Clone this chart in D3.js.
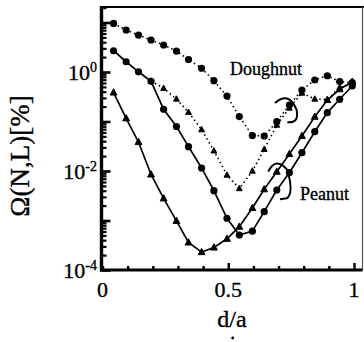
<!DOCTYPE html>
<html>
<head>
<meta charset="utf-8">
<script src="https://cdn.jsdelivr.net/npm/d3@7/dist/d3.min.js"></script>
<style>
  html, body { margin: 0; padding: 0; background: #fff; }
  svg { display: block; }
  text { font-family: "Liberation Serif", "DejaVu Serif", serif; fill: #000; stroke: #000; stroke-width: 0.35px; }
</style>
</head>
<body>
<svg id="chart" width="364" height="342"></svg>
<script>
// ---- data ----
const xPoints = [0.044, 0.094, 0.143, 0.193, 0.243, 0.294, 0.342, 0.394, 0.443, 0.495,
                 0.544, 0.596, 0.643, 0.693, 0.743, 0.793, 0.844, 0.894, 0.943, 0.993];
const doughnutCircle = [9.6, 7.05, 5.58, 4.43, 3.51, 2.65, 1.79, 1.19, 0.667, 0.327,
                        0.126, 0.052, 0.051, 0.099, 0.215, 0.433, 0.69, 0.84, 0.64, 0.61];
const xDoughnutTri = [0.193, 0.243, 0.294, 0.342, 0.394, 0.443, 0.495, 0.544, 0.596, 0.643,
                      0.693, 0.743, 0.793, 0.844, 0.894, 0.943, 0.993];
const doughnutTriangle = [0.658, 0.469, 0.285, 0.154, 0.0686, 0.0256, 0.0083, 0.00443, 0.01, 0.0274,
                          0.0849, 0.1875, 0.377, 0.285, 0.278, 0.486, 0.573];
const peanutCircle = [2.69, 1.61, 1.01, 0.649, 0.177, 0.0793, 0.031, 0.0115, 0.0040, 0.00111,
                      0.00051, 0.00061, 0.00151, 0.00413, 0.00925, 0.0234, 0.0622, 0.151, 0.281, 0.521];
const peanutTriangle = [0.385, 0.116, 0.0385, 0.0085, 0.0028, 0.00098, 0.00036, 0.00023, 0.000285, 0.000427,
                        0.00075, 0.00179, 0.00427, 0.0097, 0.022, 0.051, 0.125, 0.272, 0.448, 0.637];
const xTickValues = [0, 0.1, 0.2, 0.3, 0.4, 0.5, 0.6, 0.7, 0.8, 0.9, 1];
const xTickLabels = [{v: 0, t: "0"}, {v: 0.5, t: "0.5"}, {v: 1, t: "1"}];
const yMajorTicks = [1e-4, 1e-3, 1e-2, 1e-1, 1, 10];
const yTickLabels = [{v: 1, e: "0"}, {v: 1e-2, e: "-2"}, {v: 1e-4, e: "-4"}];
const annotations = [{t: "Doughnut", x: 0.507, y: 1.15}, {t: "Peanut", x: 0.785, y: 0.00343}];
// loop brackets, in data coordinates [d/a, Ω]
const doughnutLoop = [[0.686, 0.236], [0.74, 0.42], [0.772, 0.171], [0.782, 0.09], [0.735, 0.097]];
const peanutLoop = [[0.659, 0.0097], [0.69, 0.02], [0.735, 0.0105], [0.762, 0.0035], [0.732, 0.0028], [0.706, 0.0027]];

// ---- layout ----
const svg = d3.select("#chart");
const x = d3.scaleLinear().domain([0, 1]).range([102.5, 354]);
const y = d3.scaleLog().domain([1e-4, 1]).range([270, 72]);
const padL = 101.5, padB = 270, padT = 7, padR = 362.5;

// minor y ticks
const yMinor = [];
for (let e = -4; e <= 1; e++) {
  for (let m = 2; m <= 9; m++) {
    const v = m * Math.pow(10, e);
    if (y(v) >= padT) yMinor.push(v);
  }
}

// frame
svg.append("line").attr("x1", padL - 1).attr("x2", padR + 2).attr("y1", padT).attr("y2", padT)
  .attr("stroke", "#000").attr("stroke-width", 2.2);
svg.append("line").attr("x1", padR).attr("x2", padR).attr("y1", padT).attr("y2", padB)
  .attr("stroke", "#555").attr("stroke-width", 1.2);

// y axis: minor + major ticks, pointing inward
const yMinorAxis = d3.axisLeft(y).tickValues(yMinor).tickSize(-5).tickFormat("");
const gYm = svg.append("g").attr("transform", `translate(${padL},0)`).call(yMinorAxis);
gYm.select(".domain").remove();
gYm.selectAll(".tick line").attr("stroke-width", 2.2);

const yMajorAxis = d3.axisLeft(y).tickValues(yMajorTicks.filter(v => y(v) >= padT)).tickSize(-9).tickFormat("");
const gY = svg.append("g").attr("transform", `translate(${padL},0)`).call(yMajorAxis);
gY.select(".domain").remove();
gY.selectAll(".tick line").attr("stroke-width", 2.6);

svg.append("line").attr("x1", padL).attr("x2", padL).attr("y1", padT - 1).attr("y2", padB + 1.5)
  .attr("stroke", "#000").attr("stroke-width", 3.4);

// y tick labels
yTickLabels.forEach(d => {
  const t = svg.append("text").attr("x", 97).attr("y", y(d.v) + 7.5)
    .attr("text-anchor", "end").style("font-size", "22px");
  t.append("tspan").text("10");
  t.append("tspan").attr("dy", -8).style("font-size", "14px").text(d.e);
});

// x axis
const xAxis = d3.axisBottom(x).tickValues(xTickValues).tickSize(-4).tickFormat("");
const gX = svg.append("g").attr("transform", `translate(0,${padB})`).call(xAxis);
gX.select(".domain").remove();
gX.selectAll(".tick line")
  .attr("stroke-width", 2.4)
  .attr("y2", d => (Math.abs(d - 0.5) < 1e-9 || Math.abs(d - 1) < 1e-9) ? -7 : -4);
svg.append("line").attr("x1", padL - 1.5).attr("x2", padR).attr("y1", padB).attr("y2", padB)
  .attr("stroke", "#000").attr("stroke-width", 3);

xTickLabels.forEach(d => {
  svg.append("text").attr("x", x(d.v)).attr("y", 297).attr("text-anchor", "middle")
    .style("font-size", "22px").text(d.t);
});

// axis titles
svg.append("text").attr("x", 232).attr("y", 327).attr("text-anchor", "middle")
  .style("font-size", "24px").text("d/a");
svg.append("text").attr("transform", "translate(29,156) rotate(-90)").attr("text-anchor", "middle")
  .style("font-size", "27px").text("Ω(N,L)[%]");

// series
const lineGen = d3.line().x(d => x(d[0])).y(d => y(d[1]));
const zip = (xs, ys) => xs.map((v, i) => [v, ys[i]]);

const series = [
  {data: zip(xPoints, doughnutCircle), dash: "1.5,3", marker: "circle", r: 3.6},
  {data: zip(xDoughnutTri, doughnutTriangle), dash: "1.5,3", marker: "triSmall", r: 2.9},
  {data: zip(xPoints, peanutCircle), dash: null, marker: "circle", r: 3.6},
  {data: zip(xPoints, peanutTriangle), dash: null, marker: "tri", r: 3.4}
];

series.forEach(s => {
  svg.append("path").datum(s.data).attr("d", lineGen)
    .attr("fill", "none").attr("stroke", "#000")
    .attr("stroke-width", s.dash ? 1.6 : 1.7)
    .attr("stroke-dasharray", s.dash);
  const g = svg.append("g");
  if (s.marker === "circle") {
    g.selectAll("circle").data(s.data).join("circle")
      .attr("cx", d => x(d[0])).attr("cy", d => y(d[1])).attr("r", s.r).attr("fill", "#000");
  } else {
    const r = s.r;
    g.selectAll("path").data(s.data).join("path")
      .attr("d", d => {
        const cx = x(d[0]), cy = y(d[1]);
        return `M${cx},${cy - r * 1.1}L${cx + r},${cy + r * 0.75}L${cx - r},${cy + r * 0.75}Z`;
      })
      .attr("fill", "#000")
      .attr("stroke", "#000").attr("stroke-width", 1);
  }
});

// annotations with loop brackets
annotations.forEach(a => {
  svg.append("text").attr("x", x(a.x)).attr("y", y(a.y) + 6)
    .style("font-size", "18px").text(a.t);
});
const loopPath = pts => {
  const p = pts.map(d => [x(d[0]), y(d[1])]);
  let s = `M${p[0]}Q${p[1]} ${p[2]}Q${p[3]} ${p[4]}`;
  if (p[5]) s += `L${p[5]}`;
  return s;
};
svg.append("path").attr("d", loopPath(doughnutLoop))
  .attr("fill", "none").attr("stroke", "#000").attr("stroke-width", 2);
svg.append("path").attr("d", loopPath(peanutLoop))
  .attr("fill", "none").attr("stroke", "#000").attr("stroke-width", 2);

// small stray dot below the axis title
svg.append("circle").attr("cx", 232.7).attr("cy", 338).attr("r", 1.4).attr("fill", "#000");
</script>
</body>
</html>
